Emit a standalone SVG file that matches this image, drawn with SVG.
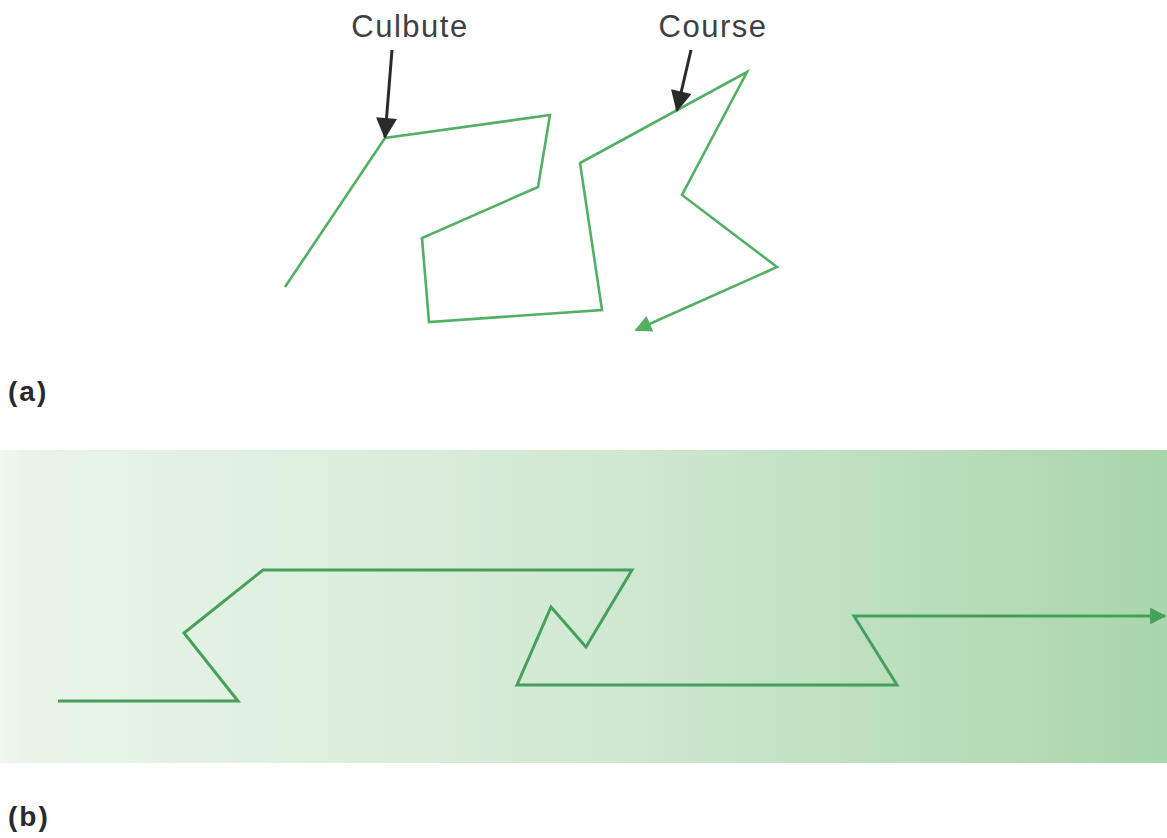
<svg xmlns="http://www.w3.org/2000/svg" width="1167" height="838" viewBox="0 0 1167 838">
  <style>
    .path-a { fill: none; stroke: #52b065; stroke-width: 2.6; stroke-linejoin: miter; }
    .path-b { fill: none; stroke: #45a05c; stroke-width: 3; stroke-linejoin: miter; }
    .pointer { fill: none; stroke: #2a2a2a; stroke-width: 3; }
    .label { font-family: "Liberation Sans", Arial, sans-serif; font-size: 31px; letter-spacing: 1.5px; fill: #404040; text-anchor: middle; }
    .part { font-family: "Liberation Sans", Arial, sans-serif; font-size: 28px; letter-spacing: 2px; font-weight: bold; fill: #2a2a2a; }
  </style>
  <defs>
    <linearGradient id="band" x1="0" y1="0" x2="1" y2="0">
      <stop offset="0" stop-color="#f0f8f0"/>
      <stop offset="0.02" stop-color="#eaf5ea"/>
      <stop offset="0.5" stop-color="#d2e9d3"/>
      <stop offset="1" stop-color="#a9d6ab"/>
    </linearGradient>
    <marker id="green-head-b" viewBox="0 0 10 10" refX="9" refY="5" markerWidth="8" markerHeight="5.5" markerUnits="strokeWidth" orient="auto">
      <path d="M0,0 L10,5 L0,10 z" fill="#45a05c"/>
    </marker>
    <marker id="green-head-a" viewBox="0 0 10 10" refX="9" refY="5" markerWidth="10" markerHeight="6.5" markerUnits="strokeWidth" orient="auto">
      <path d="M0,0 L10,5 L0,10 z" fill="#52b065"/>
    </marker>
    <marker id="black-head" viewBox="0 0 10 10" refX="9" refY="5" markerWidth="8" markerHeight="7" markerUnits="strokeWidth" orient="auto">
      <path d="M0,0 L10,5 L0,10 z" fill="#2a2a2a"/>
    </marker>
  </defs>

  <!-- (a) tumble-and-run trajectory in a uniform medium -->
  <g id="labels-a">
    <text class="label" x="410" y="37">Culbute</text>
    <text class="label" x="713" y="37">Course</text>
  </g>
  <g id="trajectory-a">
    <polyline class="path-a" marker-end="url(#green-head-a)"
      points="285,287 385,138 550,115 538,187 422,238 429,322 602,310 580,163 747,72 682,195 777,267 636,330"/>
  </g>
  <g id="connectors">
    <line class="pointer" x1="392" y1="50" x2="385" y2="137" marker-end="url(#black-head)"/>
    <line class="pointer" x1="691" y1="50" x2="677" y2="110" marker-end="url(#black-head)"/>
  </g>
  <text id="part-a" class="part" x="8" y="401">(a)</text>

  <!-- (b) biased trajectory along an attractant gradient -->
  <rect id="gradient-band" x="0" y="450" width="1167" height="313" fill="url(#band)"/>
  <g id="trajectory-b">
    <polyline class="path-b" marker-end="url(#green-head-b)"
      points="58,701 238,701 184,633 263,570 632,570 586,647 551,607 517,685 897,685 854,616 1165,616"/>
  </g>
  <text id="part-b" class="part" x="8" y="826">(b)</text>
</svg>
